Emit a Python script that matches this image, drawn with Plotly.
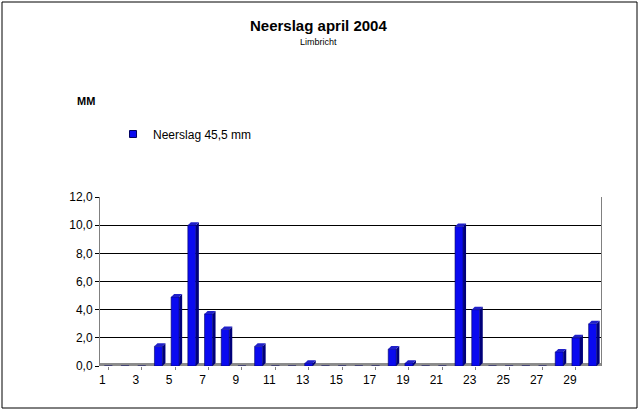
import plotly.graph_objects as go

days = list(range(1, 31))
rain_mm = [0, 0, 0, 1.4, 4.9, 10.0, 3.7, 2.6, 0, 1.4,
           0, 0, 0.2, 0, 0, 0, 0, 1.2, 0.2, 0,
           0, 9.9, 4.0, 0, 0, 0, 0, 1.0, 2.0, 3.0]
y_ticks = [0, 2, 4, 6, 8, 10, 12]
x_ticks = list(range(1, 31, 2))

W, H = 640, 412
L, R, T, B = 100, 39, 197, 46
pw, ph = W - L - R, H - T - B

fig = go.Figure()
fig.add_trace(go.Bar(
    x=days, y=rain_mm, width=0.48, showlegend=False,
    marker=dict(color="#0A0AF0", line=dict(color="#000060", width=0.6)),
))
# legend entry with a small square like the original
fig.add_trace(go.Scatter(
    x=[None], y=[None], mode="markers", name="Neerslag 45,5 mm",
    marker=dict(symbol="square", size=7, color="#0A0AF0",
                line=dict(color="#000060", width=1)),
))

# fake 3D depth: side and top face of each bar
dy = 3 / (ph / 12)
shapes = []
for d, v in zip(days, rain_mm):
    if v <= 0:
        continue
    shapes.append(dict(type="path", xref="x", yref="y", xsizemode="pixel", xanchor=d,
                       path=f"M4,0 L7,{dy} L7,{v + dy} L4,{v} Z",
                       fillcolor="#00007A", line=dict(width=0)))
    shapes.append(dict(type="path", xref="x", yref="y", xsizemode="pixel", xanchor=d,
                       path=f"M-4,{v} L4,{v} L7,{v + dy} L-1,{v + dy} Z",
                       fillcolor="#2020C8", line=dict(width=0)))

# floor
shapes.append(dict(type="rect", xref="paper", yref="y", ysizemode="pixel", yanchor=0,
                   x0=0, x1=1, y0=-1, y1=3, fillcolor="#8C8C8C",
                   line=dict(width=0), layer="below"))
# outer frame
shapes.append(dict(type="rect", xref="paper", yref="paper",
                   x0=(2 - L) / pw, x1=(637 - L) / pw,
                   y0=(H - B - 408) / ph, y1=(H - B - 2) / ph,
                   line=dict(color="black", width=1)))

fig.update_layout(
    width=W, height=H,
    margin=dict(l=L, r=R, t=T, b=B),
    plot_bgcolor="white", paper_bgcolor="white",
    font=dict(family="Liberation Sans, Arial", size=12, color="black"),
    showlegend=True,
    legend=dict(x=0.026, y=(H - B - 134) / ph, xanchor="left", yanchor="middle",
                font=dict(size=12), bgcolor="rgba(0,0,0,0)"),
    shapes=shapes,
    annotations=[
        dict(text="<b>Neerslag april 2004</b>", x=(318 - L) / pw, y=(H - B - 25) / ph,
             xref="paper", yref="paper", xanchor="center", yanchor="middle",
             showarrow=False, font=dict(size=15)),
        dict(text="Limbricht", x=(318 - L) / pw, y=(H - B - 42) / ph,
             xref="paper", yref="paper", xanchor="center", yanchor="middle",
             showarrow=False, font=dict(size=9)),
        dict(text="<b>MM</b>", x=(86 - L) / pw, y=(H - B - 101) / ph,
             xref="paper", yref="paper", xanchor="center", yanchor="middle",
             showarrow=False, font=dict(size=11)),
    ],
    xaxis=dict(range=[0.5, 30.5], tickmode="array", tickvals=x_ticks,
               ticktext=[str(t) for t in x_ticks], ticks="outside", ticklen=3,
               tickcolor="#808080", showgrid=False, zeroline=False,
               showline=False, ticklabelshift=-6, tickfont=dict(size=12)),
    yaxis=dict(range=[0, 12], tickmode="array", tickvals=y_ticks,
               tickformat=".1f", ticks="outside", ticklen=4, tickcolor="black",
               showgrid=True, gridcolor="black", gridwidth=1, zeroline=False,
               showline=True, linecolor="#808080", mirror=True,
               tickfont=dict(size=12)),
    separators=",.",
)

fig.write_html("out.html", config={"displayModeBar": False},
               post_script="document.body.style.margin='0';")
